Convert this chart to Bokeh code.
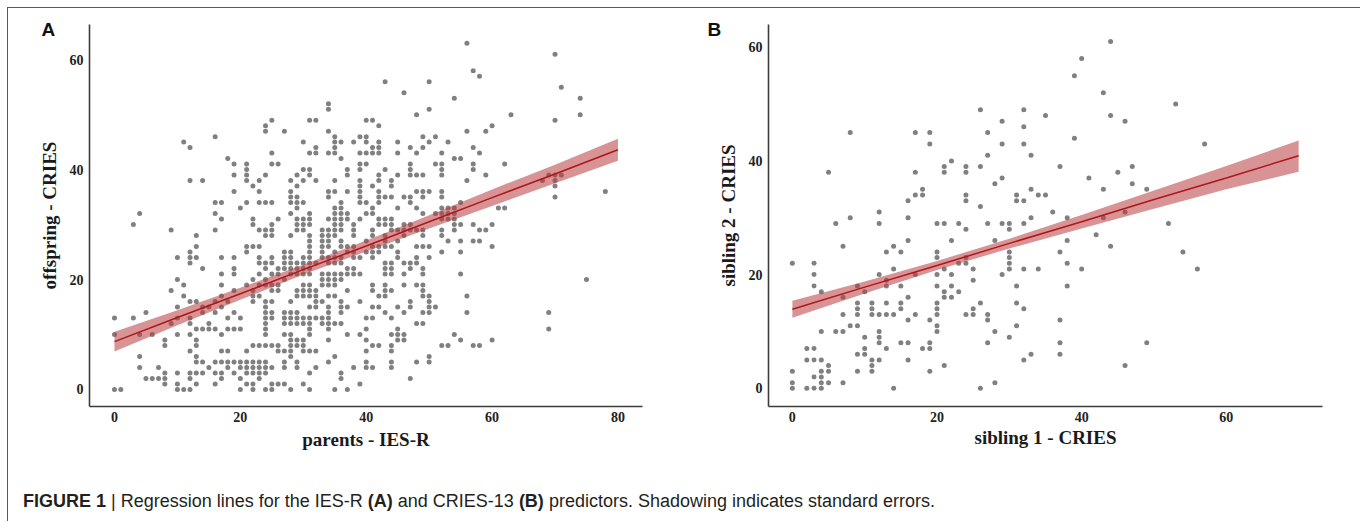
from bokeh.plotting import figure
from bokeh.models import Div, Title
from bokeh.layouts import column, row
from bokeh.embed import file_html
from bokeh.resources import INLINE

# ---------------- Panel A data: parents IES-R (x) vs offspring CRIES (y) ----------------
# offspring score levels and, for each level, the parents scores of the dots on that level
offspring_levels = [0, 1, 2, 3, 4, 5, 6, 7, 8, 9, 10, 11, 12, 13, 14, 15, 16, 17, 18, 19,
                    20, 21, 22, 23, 24, 25, 26, 27, 28, 29, 30, 31, 32, 33, 34, 35, 36, 37,
                    38, 39, 40, 41, 42, 43, 44, 45, 46, 47, 48, 49, 50, 51, 52, 53, 54, 55,
                    56, 57, 58, 61, 63]
parents_by_level = [
    [0, 1, 10, 11, 12, 20, 22, 24, 25, 28, 31, 35, 37],
    [8, 10, 13, 16, 21, 22, 25, 26, 27, 30, 39],
    [5, 6, 7, 8, 12, 17, 20, 23, 36, 47],
    [8, 10, 12, 13, 14, 16, 17, 19, 21, 22, 23, 24, 31, 36],
    [4, 7, 15, 18, 20, 21, 22, 23, 24, 25, 27, 29, 32, 38, 40, 41, 44],
    [13, 14, 16, 17, 18, 19, 20, 21, 22, 23, 24, 27, 29, 34, 40, 44, 48, 50],
    [4, 13, 28, 35, 50],
    [12, 17, 18, 21, 26, 27, 28, 30, 31, 32, 40, 44],
    [8, 13, 22, 23, 24, 25, 26, 28, 29, 30, 41, 42, 44, 52, 53, 57, 58],
    [8, 13, 28, 29, 30, 34, 40, 45, 46, 55, 60],
    [0, 4, 6, 10, 12, 17, 24, 27, 28, 31, 37, 39, 44, 45, 46, 54],
    [13, 14, 15, 16, 18, 19, 20, 24, 31, 34, 40, 45, 69],
    [9, 12, 15, 24, 27, 28, 29, 30, 31, 33, 34, 35, 36, 48, 49],
    [0, 3, 10, 12, 18, 20, 24, 25, 27, 28, 29, 30, 31, 32, 33, 34, 40, 41, 44],
    [5, 14, 16, 19, 24, 25, 27, 28, 29, 34, 36, 43, 46, 49, 50, 56, 69],
    [10, 14, 15, 17, 24, 31, 32, 34, 36, 37, 41, 42, 45, 47, 50, 51],
    [12, 13, 16, 18, 22, 24, 25, 28, 32, 33, 36, 39, 47, 50],
    [11, 17, 22, 23, 29, 30, 31, 32, 34, 35, 42, 43, 49, 50, 56],
    [9, 19, 22, 25, 26, 29, 30, 31, 32, 37, 41, 43, 44, 49],
    [11, 17, 21, 23, 24, 25, 26, 30, 31, 33, 34, 35, 41, 43, 46, 48, 49],
    [10, 22, 24, 27, 33, 34, 35, 36, 75],
    [17, 19, 23, 25, 26, 28, 29, 30, 31, 33, 34, 35, 36, 37, 38, 39, 43, 44, 46, 49, 55],
    [14, 19, 24, 26, 27, 28, 29, 30, 31, 37, 38, 43, 44, 47, 49],
    [12, 23, 24, 25, 27, 28, 29, 30, 31, 32, 34, 35, 36, 43, 44, 46, 47, 48],
    [10, 12, 13, 17, 19, 23, 25, 27, 28, 30, 31, 33, 34, 35, 36, 38, 39, 41, 45, 48, 50],
    [12, 21, 27, 28, 31, 33, 35, 37, 38, 40, 41, 42, 45, 52, 55],
    [13, 21, 22, 23, 31, 33, 34, 36, 37, 38, 41, 42, 43, 44, 48, 49, 50, 60],
    [31, 33, 34, 36, 40, 43, 45, 53, 55, 57, 58],
    [13, 24, 25, 28, 31, 33, 34, 35, 38, 41, 43, 46, 49, 52],
    [9, 16, 23, 24, 25, 29, 30, 33, 34, 35, 36, 38, 41, 44, 45, 46, 47, 48, 49, 52, 54, 58, 59],
    [3, 22, 25, 29, 30, 31, 35, 36, 38, 42, 43, 44, 46, 47, 54, 55, 57, 60],
    [17, 22, 26, 29, 30, 31, 34, 35, 36, 37, 39, 42, 43, 44, 52, 53, 54],
    [4, 16, 28, 31, 35, 36, 37, 40, 41, 49, 51, 52, 53, 54],
    [20, 29, 35, 36, 41, 45, 48, 52, 53, 54, 61, 62],
    [16, 17, 21, 23, 24, 25, 28, 29, 30, 36, 39, 40, 42, 47, 55],
    [28, 29, 34, 39, 42, 43, 44, 46, 47, 49, 52, 70],
    [19, 23, 28, 34, 35, 37, 39, 42, 48, 49, 50, 52, 78],
    [22, 29, 39, 41, 44, 70],
    [12, 14, 21, 23, 28, 30, 32, 35, 39, 42, 44, 56, 68, 70],
    [19, 21, 24, 29, 31, 37, 42, 45, 47, 48, 49, 52, 59, 69, 70, 71],
    [21, 30, 31, 37, 39, 43, 47, 52, 57],
    [19, 21, 25, 26, 39, 40, 47, 51, 52, 57, 62],
    [18, 36, 54, 55],
    [25, 31, 32, 34, 35, 39, 40, 41, 42, 45, 48, 52, 58],
    [12, 32, 35, 41, 42, 47, 49, 57],
    [11, 30, 35, 36, 38, 40, 42, 45, 50, 53],
    [16, 35, 39, 40, 49, 51],
    [24, 27, 34, 56, 59],
    [24, 42, 60],
    [25, 31, 32, 40, 41, 70],
    [48, 63, 74],
    [34, 50],
    [34],
    [54, 74],
    [46],
    [71],
    [43, 50],
    [58],
    [57],
    [70],
    [56],
]
# regression line and standard-error band
a_fit_x = [0, 10, 20, 30, 40, 50, 60, 70, 80]
a_fit_y = [8.7, 13.1, 17.4, 21.8, 26.1, 30.5, 34.9, 39.2, 43.6]
a_fit_lo = [6.9, 11.7, 16.3, 20.9, 25.1, 29.3, 33.4, 37.5, 41.6]
a_fit_hi = [10.5, 14.4, 18.5, 22.7, 27.1, 31.7, 36.4, 40.9, 45.6]
a_xticks = [0, 20, 40, 60, 80]
a_yticks = [0, 20, 40, 60]

# ---------------- Panel B data: sibling 1 CRIES (x) vs sibling 2 CRIES (y) ----------------
sibling1 = [44, 40, 39, 43, 53, 26, 32, 35, 44, 46, 29, 32, 8, 17, 19, 27, 39, 19, 29, 32,
            57, 33, 27, 22, 21, 21, 24, 24, 26, 37, 47, 5, 17, 45, 29, 41, 28, 47, 18, 18,
            17, 33, 43, 49, 24, 24, 31, 32, 31, 34, 35, 16, 26, 36, 12, 46, 6, 12, 16, 8,
            20, 21, 23, 27, 29, 30, 32, 33, 38, 43, 52, 24, 30, 42, 7, 16, 22, 28, 38, 44,
            13, 14, 15, 20, 30, 30, 37, 54, 20, 24, 24, 23, 38, 0, 3, 30, 3, 14, 17, 21,
            25, 30, 32, 34, 40, 56, 12, 20, 22, 29, 13, 13, 25, 3, 9, 15, 20, 22, 31, 38,
            4, 10, 21, 23, 7, 16, 21, 22, 9, 9, 9, 11, 11, 11, 13, 15, 15, 20, 20, 20,
            26, 31, 32, 25, 25, 7, 12, 13, 14, 17, 24, 27, 27, 16, 19, 37, 8, 9, 20, 20,
            31, 4, 6, 7, 12, 12, 28, 10, 12, 30, 15, 16, 19, 27, 37, 49, 2, 3, 10, 13,
            18, 19, 9, 10, 33, 37, 2, 3, 4, 11, 12, 16, 32, 5, 11, 21, 46, 0, 4, 5,
            9, 11, 19, 3, 4, 0, 4, 5, 7, 28, 0, 2, 3, 4, 14, 26]
sibling2 = [61, 58, 55, 52, 50, 49, 49, 48, 48, 47, 47, 46, 45, 45, 45, 45, 44, 43, 43, 43,
            43, 41, 41, 40, 39, 38, 39, 38, 39, 39, 39, 38, 38, 38, 37, 37, 36, 36, 35, 34,
            34, 35, 35, 35, 34, 33, 34, 33, 33, 34, 34, 33, 32, 31, 31, 31, 29, 29, 30, 30,
            29, 29, 29, 29, 29, 29, 29, 30, 30, 30, 29, 28, 28, 27, 25, 26, 26, 26, 26, 25,
            24, 25, 24, 24, 24, 23, 24, 24, 23, 23, 22, 22, 22, 22, 22, 22, 20, 21, 20, 21,
            21, 21, 21, 21, 21, 21, 20, 20, 20, 20, 19, 18, 19, 18, 18, 18, 18, 18, 18, 18,
            17, 17, 17, 17, 16, 16, 16, 16, 15, 14, 13, 15, 14, 13, 15, 15, 14, 15, 14, 13,
            15, 15, 14, 14, 13, 13, 13, 13, 13, 13, 13, 13, 12, 12, 12, 12, 11, 11, 11, 10,
            11, 10, 10, 10, 10, 9, 10, 9, 8, 9, 8, 8, 8, 8, 8, 8, 7, 7, 7, 7,
            7, 7, 6, 6, 6, 6, 5, 5, 5, 5, 5, 5, 5, 4, 4, 4, 4, 3, 3, 3,
            3, 3, 3, 2, 2, 1, 1, 1, 1, 1, 0, 0, 0, 0, 0, 0]
b_fit_x = [0, 10, 20, 30, 40, 50, 60, 70]
b_fit_y = [13.9, 17.8, 21.6, 25.5, 29.3, 33.2, 37.0, 40.9]
b_fit_lo = [12.4, 16.7, 20.8, 24.6, 28.1, 31.6, 35.0, 38.1]
b_fit_hi = [15.4, 18.8, 22.4, 26.3, 30.5, 34.8, 39.1, 43.6]
b_xticks = [0, 20, 40, 60]
b_yticks = [0, 20, 40, 60]

# flatten panel A rows into point lists
parents, offspring = [], []
for lev, xs in zip(offspring_levels, parents_by_level):
    for xv in xs:
        parents.append(xv)
        offspring.append(lev)

DOT = "#808080"
BAND = "#b83c3c"
LINE = "#b0141c"
AXIS = "#3c3c3c"
SERIF = "Liberation Serif"


def make_panel(xr, yr, width, left, right, xticks, yticks, xlabel, ylabel, xlab_standoff,
               letter, letter_offset):
    p = figure(width=width, height=462, x_range=xr, y_range=yr,
               output_backend="svg", toolbar_location=None,
               min_border_left=left, min_border_right=right,
               min_border_top=16, min_border_bottom=64)
    p.xgrid.visible = False
    p.ygrid.visible = False
    p.outline_line_color = None
    p.background_fill_color = "white"
    p.border_fill_color = "white"
    for ax in (p.xaxis[0], p.yaxis[0]):
        ax.axis_line_color = AXIS
        ax.axis_line_width = 1.6
        ax.major_tick_line_color = None
        ax.minor_tick_line_color = None
        ax.major_tick_in = 0
        ax.major_tick_out = 0
        ax.major_label_text_font = SERIF
        ax.major_label_text_font_style = "bold"
        ax.major_label_text_font_size = "14px"
        ax.major_label_text_color = "#222222"
        ax.axis_label_text_font = SERIF
        ax.axis_label_text_font_style = "bold"
        ax.axis_label_text_font_size = "19px"
        ax.axis_label_text_color = "#1a1a1a"
    p.xaxis.ticker = xticks
    p.yaxis.ticker = yticks
    p.xaxis.major_label_standoff = 5
    p.yaxis.major_label_standoff = 6
    p.xaxis.axis_label = xlabel
    p.yaxis.axis_label = ylabel
    p.xaxis.axis_label_standoff = xlab_standoff
    p.yaxis.axis_label_standoff = 7
    # panel letter as a title shifted left/down next to the y axis
    p.title = Title(text=letter, align="left", offset=letter_offset, standoff=-30,
                    text_font="Liberation Sans", text_font_style="bold",
                    text_font_size="19px", text_color="#111111")
    return p


pA = make_panel((-3.97, 83.9), (-3.1, 66.4), 680, 81, 46, a_xticks, a_yticks,
                "parents - IES-R", "offspring - CRIES", 4, "A", -48)
pA.scatter(parents, offspring, size=5, fill_color=DOT, line_color=None)
pA.varea(x=a_fit_x, y1=a_fit_lo, y2=a_fit_hi, fill_color=BAND, fill_alpha=0.55)
pA.line(a_fit_x, a_fit_y, line_color=LINE, line_width=1.5)

pB = make_panel((-3.3, 73.3), (-3.2, 64.0), 667, 80, 33, b_xticks, b_yticks,
                "sibling 1 - CRIES", "sibling 2 - CRIES", 2, "B", -61)
pB.scatter(sibling1, sibling2, size=5, fill_color=DOT, line_color=None)
pB.varea(x=b_fit_x, y1=b_fit_lo, y2=b_fit_hi, fill_color=BAND, fill_alpha=0.55)
pB.line(b_fit_x, b_fit_y, line_color=LINE, line_width=1.5)

caption = Div(
    text=('<div style="font-family:\'Liberation Sans\',Arial,sans-serif;'
          'font-size:18px;color:#231f20;padding:14px 0 0 10px;white-space:nowrap;">'
          '<b>FIGURE 1</b> | Regression lines for the IES-R <b>(A)</b> and CRIES-13 '
          '<b>(B)</b> predictors. Shadowing indicates standard errors.</div>'),
    width=1347, height=47)

layout = column(row(pA, pB), caption, margin=(7, 0, 0, 7),
                styles={"border": "1px solid #5a5a5a"})

open("out.html", "w").write(file_html(layout, INLINE))
